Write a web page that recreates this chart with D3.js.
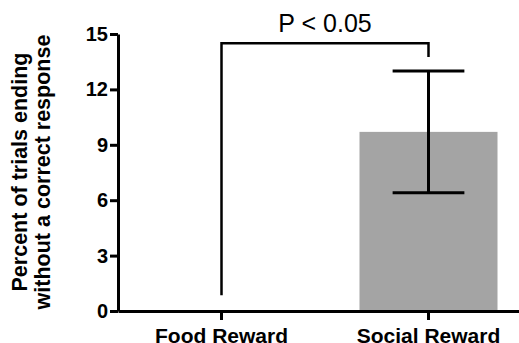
<!DOCTYPE html>
<html>
<head>
<meta charset="utf-8">
<script src="https://cdn.jsdelivr.net/npm/d3@7"></script>
<style>
  body { margin: 0; background: #fff; }
  svg { display: block; font-family: Arial, "Liberation Sans", sans-serif; }
</style>
</head>
<body>
<svg></svg>
<script>
  //Chart data
  var categories = ['Food Reward', 'Social Reward'];
  var means = [0, 9.7];
  var errLow = [null, 6.4];
  var errHigh = [null, 13.0];
  var yTicks = [0, 3, 6, 9, 12, 15];

  //Significance bracket: height of bar, and where each leg stops
  var bracketTop = 14.5;
  var bracketLegEnds = [0.85, 13.75];
  var bracketLabel = 'P < 0.05';

  const width = 519;
  const height = 343;

  const svg = d3.select('svg')
    .attr('width', width)
    .attr('height', height);

  const plotLeft = 118;
  const plotTop = 34;
  const plotBottom = 311;

  const x = d3.scaleBand()
    .domain(categories)
    .range([plotLeft, plotLeft + 414])
    .paddingInner(1 / 3)
    .paddingOuter(1 / 6);

  const y = d3.scaleLinear()
    .domain([0, 15])
    .range([plotBottom, plotTop]);

  //Bars
  svg.append('g')
    .selectAll('rect')
    .data(categories)
    .enter().append('rect')
    .attr('x', d => x(d))
    .attr('width', x.bandwidth())
    .attr('y', (d, i) => y(means[i]))
    .attr('height', (d, i) => y(0) - y(means[i]))
    .attr('fill', '#a4a4a4');

  //Error bars
  const capHalf = x.bandwidth() * 0.26;
  const errGroup = svg.append('g')
    .attr('stroke', '#000')
    .attr('stroke-width', 3);
  categories.forEach((c, i) => {
    if (errLow[i] == null) return;
    const cx = x(c) + x.bandwidth() / 2;
    errGroup.append('line')
      .attr('x1', cx).attr('x2', cx)
      .attr('y1', y(errLow[i])).attr('y2', y(errHigh[i]));
    [errLow[i], errHigh[i]].forEach(v => {
      errGroup.append('line')
        .attr('x1', cx - capHalf).attr('x2', cx + capHalf)
        .attr('y1', y(v)).attr('y2', y(v));
    });
  });

  //Significance bracket
  const bx = categories.map(c => x(c) + x.bandwidth() / 2);
  svg.append('path')
    .attr('d', `M${bx[0]},${y(bracketLegEnds[0])}V${y(bracketTop)}H${bx[1]}V${y(bracketLegEnds[1])}`)
    .attr('fill', 'none')
    .attr('stroke', '#000')
    .attr('stroke-width', 2.5);

  svg.append('text')
    .attr('x', (bx[0] + bx[1]) / 2)
    .attr('y', y(bracketTop) - 11)
    .attr('text-anchor', 'middle')
    .attr('font-size', 25)
    .text(bracketLabel);

  //Axes
  const yAxis = svg.append('g')
    .attr('transform', `translate(${plotLeft},0)`)
    .call(d3.axisLeft(y).tickValues(yTicks).tickSize(8).tickSizeOuter(0).tickPadding(2));

  const xAxis = svg.append('g')
    .attr('transform', `translate(0,${plotBottom})`)
    .call(d3.axisBottom(x).tickSize(9).tickSizeOuter(0).tickPadding(8));

  [yAxis, xAxis].forEach(g => {
    g.selectAll('path, line').attr('stroke', '#000').attr('stroke-width', 3);
    g.selectAll('text')
      .attr('fill', '#000')
      .attr('font-family', 'Arial, "Liberation Sans", sans-serif')
      .attr('font-weight', 'bold');
  });
  yAxis.selectAll('text').attr('font-size', 20);
  xAxis.selectAll('text').attr('font-size', 21);

  //Y axis title
  svg.append('text')
    .attr('transform', `translate(27,172) rotate(-90)`)
    .attr('text-anchor', 'middle')
    .attr('font-size', 21.5)
    .attr('font-weight', 'bold')
    .selectAll('tspan')
    .data(['Percent of trials ending', 'without a correct response'])
    .enter().append('tspan')
    .attr('x', 0)
    .attr('dy', (d, i) => i === 0 ? 0 : 23)
    .text(d => d);
</script>
</body>
</html>
